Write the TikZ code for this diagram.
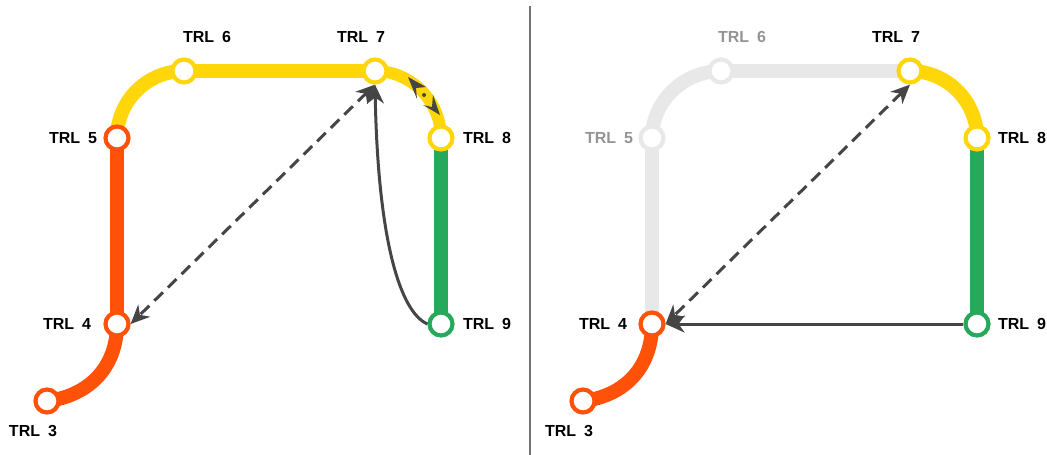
\documentclass[tikz,border=0pt]{standalone}
\usepackage{fontspec}
\setmainfont{Liberation Sans}
\usetikzlibrary{arrows.meta,backgrounds}
\definecolor{tred}{HTML}{FF5208}
\definecolor{tyel}{HTML}{FFD60A}
\definecolor{tgrn}{HTML}{27A85A}
\definecolor{tfade}{HTML}{E8E8E8}
\definecolor{tdark}{HTML}{454545}
\newcommand{\trl}[1]{TRL\hspace{8pt}#1}
\tikzset{
  x=1pt,y=-1pt,
  stn/.style={circle,draw=#1,fill=white,line width=4.2pt,minimum size=23pt,inner sep=0pt},
  trk/.style={line width=14pt,draw=#1},
  lab/.style={font=\fontsize{16}{19}\selectfont\bfseries,text=black,inner sep=0pt},
  labfade/.style={lab,text=black!42},
  conn/.style={line width=3pt,draw=tdark,-{Stealth[length=19pt,width=17pt,inset=6pt]}},
  dconn/.style={line width=3pt,draw=tdark,dash pattern=on 12pt off 7pt,
     {Stealth[length=19pt,width=17pt,inset=6pt]}-{Stealth[length=19pt,width=17pt,inset=6pt]}},
  mark tip/.style={fill=tdark,draw=none},
}
\begin{document}
\begin{tikzpicture}
\useasboundingbox (0,0) rectangle (1047,455);
\coordinate (divtop) at (530,6);
\coordinate (divbot) at (530,455);
\draw[black!55,line width=1.2pt] (divtop) -- (divbot);

% left stations
\node[stn=tred] (a3) at (47,401) {};
\node[stn=tred] (a4) at (117,324) {};
\node[stn=tred] (a5) at (117,138) {};
\node[stn=tyel] (a6) at (184,71) {};
\node[stn=tyel] (a7) at (375,71) {};
\node[stn=tyel] (a8) at (441,138) {};
\node[stn=tgrn] (a9) at (441,324) {};
% right stations
\node[stn=tred] (b3) at (583,401) {};
\node[stn=tred] (b4) at (652,324) {};
\node[stn=tfade] (b5) at (652,138) {};
\node[stn=tfade] (b6) at (721,71) {};
\node[stn=tyel] (b7) at (910,71) {};
\node[stn=tyel] (b8) at (977,138) {};
\node[stn=tgrn] (b9) at (977,324) {};

\begin{pgfonlayer}{background}
  \draw[trk=tred] (a3.center) .. controls (88,396) and (117,368) .. (a4.center);
  \draw[trk=tred] (a4.center) -- (a5.center);
  \draw[trk=tyel] (a5.center) .. controls (117,101) and (147,71) .. (a6.center);
  \draw[trk=tyel] (a6.center) -- (a7.center);
  \draw[tyel,line width=12pt] (a7.center) .. controls (411,71) and (441,101) .. (a8.center);
  \draw[trk=tgrn] (a8.center) -- (a9.center);

  \draw[trk=tred] (b3.center) .. controls (624,396) and (652,368) .. (b4.center);
  \draw[trk=tfade] (b4.center) -- (b5.center);
  \draw[trk=tfade] (b5.center) .. controls (652,101) and (684,71) .. (b6.center);
  \draw[trk=tfade] (b6.center) -- (b7.center);
  \draw[trk=tyel] (b7.center) .. controls (947,71) and (977,101) .. (b8.center);
  \draw[trk=tgrn] (b8.center) -- (b9.center);
\end{pgfonlayer}

% connectors
\draw[dconn] (a7.south) -- (a4.east);
\draw[conn] (a9.west) .. controls (400,312) and (378,240) .. (a7.south);
\draw[dconn] (b7.south) -- (b4.east);
\draw[conn] (b9.west) -- (b4.east);

% small opposed arrows on the track
\fill[mark tip] (408,77) -- (426,87) -- (416,88) -- (417,99) -- cycle;
\fill[mark tip] (440,115) -- (423,105) -- (432,107) -- (433,95) -- cycle;
\fill[tdark] (424,95) circle (2pt);

% labels
\node[lab] (la6) at (207,37) {\trl{6}};
\node[lab] (la7) at (361,37) {\trl{7}};
\node[lab] (la5) at (73,138) {\trl{5}};
\node[lab] (la8) at (487,138) {\trl{8}};
\node[lab] (la4) at (67,324) {\trl{4}};
\node[lab] (la9) at (487,324) {\trl{9}};
\node[lab] (la3) at (33,431) {\trl{3}};

\node[labfade] (lb6) at (742,37) {\trl{6}};
\node[lab] (lb7) at (896,37) {\trl{7}};
\node[labfade] (lb5) at (609,138) {\trl{5}};
\node[lab] (lb8) at (1022,138) {\trl{8}};
\node[lab] (lb4) at (603,324) {\trl{4}};
\node[lab] (lb9) at (1022,324) {\trl{9}};
\node[lab] (lb3) at (569,431) {\trl{3}};
\end{tikzpicture}
\end{document}
